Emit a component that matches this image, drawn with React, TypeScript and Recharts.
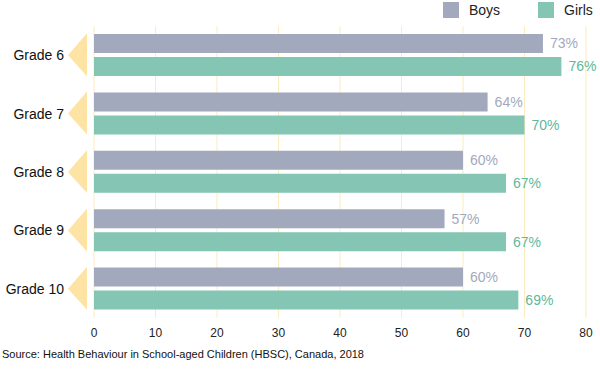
import React from "react"
import {
  Bar,
  BarChart,
  CartesianGrid,
  LabelList,
  XAxis,
  YAxis,
} from "recharts"

const grades = ["Grade 6", "Grade 7", "Grade 8", "Grade 9", "Grade 10"]
const boys = [73, 64, 60, 57, 60]
const girls = [76, 70, 67, 67, 69]
const xTicks = [0, 10, 20, 30, 40, 50, 60, 70, 80]

const data = grades.map((grade, i) => ({ grade, boys: boys[i], girls: girls[i] }))

const BOYS = "#a3a9bd"
const GIRLS = "#85c5b3"
const GIRLS_TEXT = "#5fb89c"
const FONT = "'Liberation Sans', Arial, Helvetica, sans-serif"

// tick x from recharts is axis edge - 8 (=86)
function GradeTick(props: any) {
  const { x, y, payload } = props
  return (
    <g>
      <polygon points={`${x + 1},${y - 22} ${x + 1},${y + 21} ${x - 18},${y}`} fill="#fde3a4" />
      <text x={x - 22} y={y} dy={5} textAnchor="end" fontSize={14} fill="#111" fontFamily={FONT}>
        {payload.value}
      </text>
    </g>
  )
}

function LegendItem({ color, label, left }: { color: string; label: string; left: number }) {
  return (
    <div style={{ position: "absolute", left, top: 2, display: "flex", alignItems: "center" }}>
      <div style={{ width: 16, height: 16, background: color, marginRight: 10 }} />
      <span style={{ fontSize: 14, color: "#222", lineHeight: "16px" }}>{label}</span>
    </div>
  )
}

export default function App() {
  return (
    <div style={{ position: "absolute", left: 0, top: 0, width: 600, height: 369, background: "#fff", fontFamily: FONT }}>
      <BarChart
        width={600}
        height={369}
        data={data}
        layout="vertical"
        margin={{ top: 26, right: 14, bottom: 21, left: 0 }}
        barCategoryGap={8}
        barGap={4}
      >
        <CartesianGrid horizontal={false} stroke="#fcebbf" strokeWidth={1} />
        <XAxis
          type="number"
          domain={[0, 80]}
          ticks={xTicks}
          axisLine={false}
          tickLine={false}
          tick={{ fontSize: 12, fill: "#222", fontFamily: FONT }}
          dy={2}
        />
        <YAxis
          type="category"
          dataKey="grade"
          width={94}
          axisLine={false}
          tickLine={false}
          tick={<GradeTick />}
        />
        <Bar dataKey="boys" fill={BOYS} barSize={19} isAnimationActive={false}>
          <LabelList
            dataKey="boys"
            position="right"
            offset={7}
            formatter={(v: any) => `${v}%`}
            style={{ fontSize: 14, fill: BOYS, fontFamily: FONT }}
          />
        </Bar>
        <Bar dataKey="girls" fill={GIRLS} barSize={19} isAnimationActive={false}>
          <LabelList
            dataKey="girls"
            position="right"
            offset={7}
            formatter={(v: any) => `${v}%`}
            style={{ fontSize: 14, fill: GIRLS_TEXT, fontFamily: FONT }}
          />
        </Bar>
      </BarChart>
      <LegendItem color={BOYS} label="Boys" left={443} />
      <LegendItem color={GIRLS} label="Girls" left={538} />
      <div style={{ position: "absolute", left: 2, top: 348, fontSize: 11, color: "#111" }}>
        Source: Health Behaviour in School-aged Children (HBSC), Canada, 2018
      </div>
    </div>
  )
}
